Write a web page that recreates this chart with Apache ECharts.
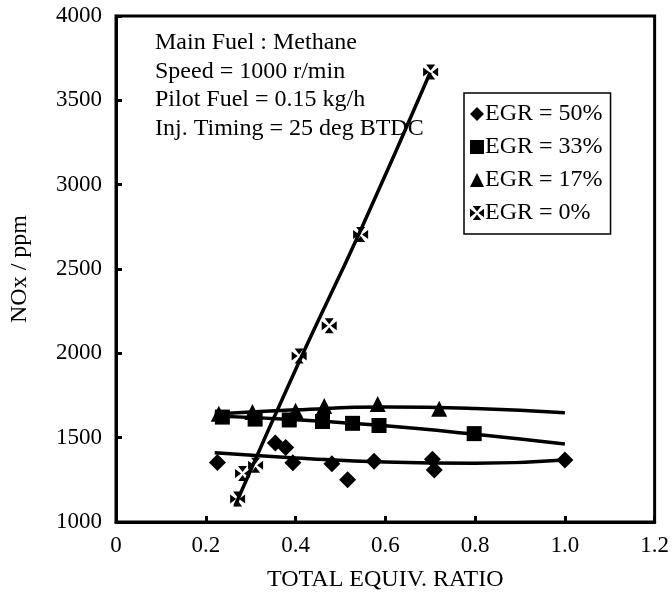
<!DOCTYPE html>
<html>
<head>
<meta charset="utf-8">
<script src="https://cdn.jsdelivr.net/npm/echarts@6/dist/echarts.min.js"></script>
<style>
  html, body { margin: 0; padding: 0; background: #fff; }
  #chart { width: 672px; height: 600px; }
</style>
</head>
<body>
<div id="chart"></div>
<script>
// NOx emissions vs total equivalence ratio for several EGR rates
const xTicks = [0, 0.2, 0.4, 0.6, 0.8, 1.0, 1.2];
const yTicks = [1000, 1500, 2000, 2500, 3000, 3500, 4000];

// measured points [equiv. ratio, NOx ppm]
const egr50 = [[0.226, 1353], [0.355, 1468], [0.378, 1442], [0.394, 1352], [0.481, 1345],
               [0.516, 1250], [0.575, 1360], [0.705, 1372], [0.709, 1308], [1.0, 1368]];
const egr33 = [[0.237, 1622], [0.31, 1610], [0.386, 1605], [0.46, 1596], [0.527, 1585],
               [0.586, 1572], [0.798, 1524]];
const egr17 = [[0.229, 1642], [0.304, 1652], [0.40, 1660], [0.464, 1688], [0.583, 1700],
               [0.72, 1672]];
const egr0  = [[0.271, 1136], [0.282, 1288], [0.311, 1336], [0.408, 1984], [0.475, 2163],
               [0.545, 2704], [0.701, 3668]];

// fitted trend curves
const fit50 = [[0.22, 1410], [0.4, 1380], [0.6, 1355], [0.8, 1348], [1.0, 1368]];
const fit33 = [[0.22, 1628], [0.4, 1606], [0.6, 1570], [0.8, 1520], [1.0, 1462]];
const fit17 = [[0.22, 1640], [0.4, 1665], [0.6, 1682], [0.8, 1673], [1.0, 1648]];
const fit0  = [[0.265, 1095], [0.408, 1950], [0.545, 2730], [0.70, 3665]];

const notes = ['Main Fuel : Methane', 'Speed = 1000 r/min', 'Pilot Fuel = 0.15 kg/h',
               'Inj. Timing = 25 deg BTDC'];

const FONT = '"Liberation Serif", "Times New Roman", serif';
const crossPath = 'path://M2,0 L8,0 L5,4 Z M10,2 L10,8 L6,5 Z M8,10 L2,10 L5,6 Z M0,8 L0,2 L4,5 Z';

function scatter(name, data, symbol, size) {
  return {
    name: name, type: 'scatter', data: data, symbol: symbol, symbolSize: size,
    itemStyle: { color: '#000', opacity: 1 }, z: 5
  };
}
function trend(data) {
  return {
    type: 'line', data: data, smooth: true, symbol: 'none',
    lineStyle: { color: '#000', width: 3.5 }, silent: true, z: 3
  };
}

const chart = echarts.init(document.getElementById('chart'), null, { renderer: 'canvas' });
chart.setOption({
  animation: false,
  backgroundColor: '#fff',
  grid: { left: 116, right: 14, top: 16, bottom: 78, show: true,
          borderColor: '#000', borderWidth: 3 },
  xAxis: {
    type: 'value', min: xTicks[0], max: xTicks[xTicks.length - 1], interval: 0.2,
    name: 'TOTAL EQUIV. RATIO', nameLocation: 'middle', nameGap: 46,
    nameTextStyle: { fontFamily: FONT, fontSize: 24, color: '#000' },
    axisLine: { show: true, lineStyle: { color: '#000', width: 3 } },
    axisTick: { show: true, inside: true, length: 6, lineStyle: { color: '#000', width: 3 } },
    axisLabel: { fontFamily: FONT, fontSize: 23, color: '#000', margin: 12,
                 formatter: v => v === 0 ? '0' : v.toFixed(1) },
    splitLine: { show: false }
  },
  yAxis: {
    type: 'value', min: yTicks[0], max: yTicks[yTicks.length - 1], interval: 500,
    name: 'NOx / ppm', nameLocation: 'middle', nameGap: 84, nameRotate: 90,
    nameTextStyle: { fontFamily: FONT, fontSize: 24, color: '#000' },
    axisLine: { show: true, lineStyle: { color: '#000', width: 3 } },
    axisTick: { show: true, inside: true, length: 6, lineStyle: { color: '#000', width: 3 } },
    axisLabel: { fontFamily: FONT, fontSize: 23, color: '#000', margin: 14,
                 formatter: v => String(v) },
    splitLine: { show: false }
  },
  legend: {
    orient: 'vertical', left: 464, top: 93,
    data: ['EGR = 50%', 'EGR = 33%', 'EGR = 17%', 'EGR = 0%'],
    backgroundColor: '#fff', borderColor: '#000', borderWidth: 1.5,
    padding: [9, 8, 9, 6], itemGap: 9, itemWidth: 14, itemHeight: 14,
    textStyle: { fontFamily: FONT, fontSize: 24, color: '#000', padding: [0, 0, 0, -4] }
  },
  graphic: notes.map((t, i) => ({
    type: 'text', left: 155, top: 31 + i * 28.5,
    style: { text: t, font: '24px ' + FONT, fill: '#000' }
  })),
  series: [
    trend(fit50), trend(fit33), trend(fit17), trend(fit0),
    scatter('EGR = 50%', egr50, 'diamond', 17),
    scatter('EGR = 33%', egr33, 'rect', 15),
    scatter('EGR = 17%', egr17, 'triangle', 16),
    scatter('EGR = 0%', egr0, crossPath, 15)
  ]
});
</script>
</body>
</html>
